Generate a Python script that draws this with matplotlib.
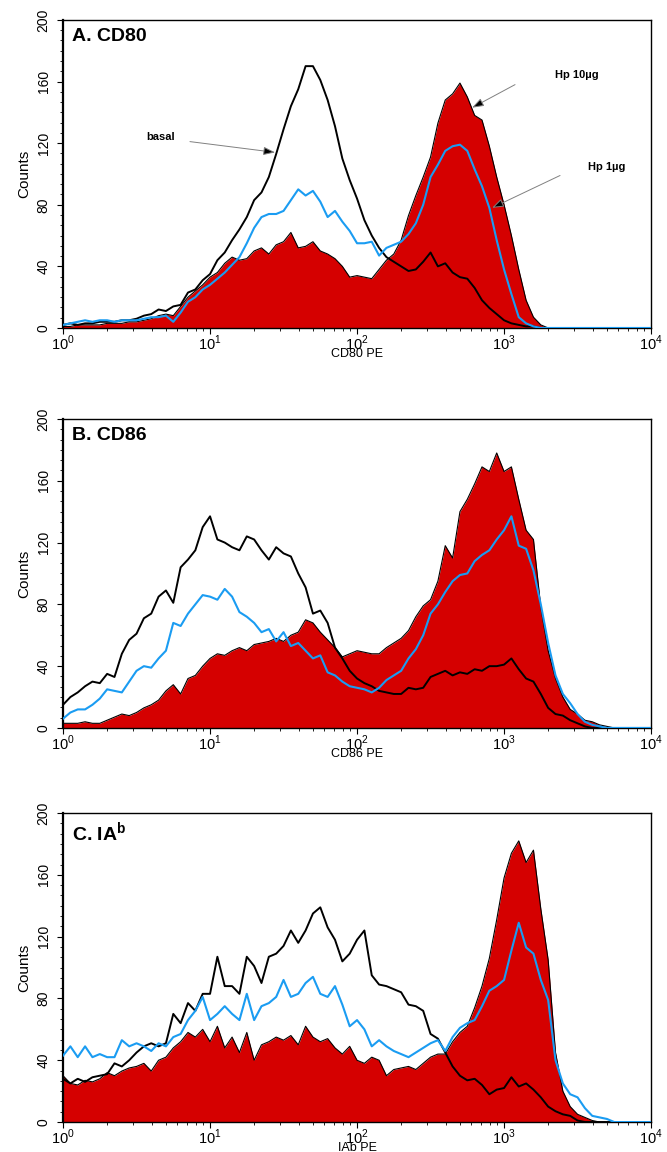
import numpy as np
import matplotlib
matplotlib.use('Agg')
import matplotlib.pyplot as plt
from matplotlib.ticker import MultipleLocator, LogLocator, FuncFormatter, NullFormatter

plt.rcParams['font.family'] = ['Liberation Sans', 'DejaVu Sans']
plt.rcParams['mathtext.fontset'] = 'custom'
plt.rcParams['mathtext.rm'] = 'Liberation Sans'
plt.rcParams['mathtext.bf'] = 'Liberation Sans:bold'

RED = '#d50000'
BLUE = '#1a9cf2'

# channel positions, log10 of fluorescence (0.05 steps from 10^0 to 10^4)
log_channel = [0.00, 0.05, 0.10, 0.15, 0.20, 0.25, 0.30, 0.35, 0.40, 0.45,
               0.50, 0.55, 0.60, 0.65, 0.70, 0.75, 0.80, 0.85, 0.90, 0.95,
               1.00, 1.05, 1.10, 1.15, 1.20, 1.25, 1.30, 1.35, 1.40, 1.45,
               1.50, 1.55, 1.60, 1.65, 1.70, 1.75, 1.80, 1.85, 1.90, 1.95,
               2.00, 2.05, 2.10, 2.15, 2.20, 2.25, 2.30, 2.35, 2.40, 2.45,
               2.50, 2.55, 2.60, 2.65, 2.70, 2.75, 2.80, 2.85, 2.90, 2.95,
               3.00, 3.05, 3.10, 3.15, 3.20, 3.25, 3.30, 3.35, 3.40, 3.45,
               3.50, 3.55, 3.60, 3.65, 3.70, 3.75, 3.80, 3.85, 3.90, 3.95,
               4.00]

# A. CD80
cd80_basal = [2, 3, 2, 3, 3, 4, 4, 4, 5, 5,
              6, 8, 9, 12, 11, 14, 15, 23, 25, 31,
              35, 44, 49, 57, 64, 72, 83, 88, 98, 113,
              129, 144, 155, 170, 170, 161, 148, 131, 110, 96,
              84, 70, 60, 52, 46, 43, 40, 37, 38, 43,
              49, 40, 42, 36, 33, 32, 26, 18, 13, 9,
              5, 3, 2, 1, 1, 0, 0, 0, 0, 0,
              0, 0, 0, 0, 0, 0, 0, 0, 0, 0,
              0]
cd80_hp1 = [2, 3, 4, 5, 4, 5, 5, 4, 5, 5,
            5, 6, 7, 7, 8, 4, 10, 17, 20, 25,
            28, 32, 36, 41, 46, 55, 65, 72, 74, 74,
            76, 83, 90, 86, 89, 82, 72, 76, 69, 63,
            55, 55, 56, 47, 52, 54, 56, 61, 68, 80,
            98, 106, 115, 118, 119, 115, 103, 92, 78, 57,
            38, 22, 7, 3, 1, 0, 0, 0, 0, 0,
            0, 0, 0, 0, 0, 0, 0, 0, 0, 0,
            0]
cd80_hp10 = [1, 1, 2, 2, 2, 2, 3, 3, 3, 4,
             4, 5, 6, 8, 9, 8, 14, 20, 24, 28,
             33, 36, 42, 46, 44, 45, 50, 52, 48, 54,
             56, 62, 52, 53, 56, 50, 48, 45, 40, 33,
             34, 33, 32, 38, 44, 48, 57, 73, 86, 98,
             111, 133, 148, 152, 159, 150, 138, 135, 118, 98,
             80, 60, 38, 18, 7, 2, 0, 0, 0, 0,
             0, 0, 0, 0, 0, 0, 0, 0, 0, 0,
             0]

# B. CD86
cd86_basal = [15, 20, 23, 27, 30, 29, 35, 33, 48, 57,
              61, 71, 74, 85, 89, 81, 104, 109, 115, 130,
              137, 122, 120, 117, 115, 124, 122, 115, 109, 117,
              113, 111, 100, 91, 74, 76, 68, 52, 45, 37,
              32, 29, 27, 24, 23, 22, 22, 26, 25, 26,
              33, 35, 37, 34, 36, 35, 38, 37, 40, 40,
              41, 45, 38, 32, 30, 22, 13, 9, 8, 5,
              3, 1, 0, 0, 0, 0, 0, 0, 0, 0,
              0]
cd86_hp1 = [6, 10, 12, 12, 15, 19, 25, 24, 23, 30,
            37, 40, 39, 45, 50, 68, 66, 74, 80, 86,
            85, 83, 90, 85, 75, 72, 68, 62, 64, 56,
            62, 53, 55, 50, 45, 47, 36, 34, 30, 27,
            26, 25, 23, 26, 31, 34, 37, 45, 51, 60,
            74, 80, 88, 95, 99, 100, 108, 112, 115, 122,
            128, 137, 118, 116, 102, 80, 55, 34, 22, 16,
            9, 4, 2, 1, 0, 0, 0, 0, 0, 0,
            0]
cd86_hp10 = [3, 3, 3, 4, 3, 3, 5, 7, 9, 8,
             10, 13, 15, 18, 24, 28, 22, 32, 34, 40,
             45, 48, 47, 50, 52, 50, 54, 55, 56, 58,
             56, 60, 62, 70, 68, 62, 57, 52, 46, 48,
             50, 49, 48, 48, 52, 55, 58, 63, 72, 79,
             83, 95, 118, 110, 140, 148, 158, 169, 166, 178,
             166, 169, 148, 128, 122, 78, 50, 32, 20, 12,
             9, 5, 4, 2, 1, 0, 0, 0, 0, 0,
             0]

# C. IAb
iab_basal = [28, 25, 28, 26, 29, 30, 31, 38, 36, 40,
             45, 49, 51, 49, 51, 70, 64, 77, 72, 83,
             83, 107, 88, 88, 83, 107, 101, 90, 107, 109,
             114, 124, 116, 124, 135, 139, 126, 118, 104, 109,
             118, 124, 95, 89, 88, 86, 84, 76, 75, 72,
             57, 54, 45, 36, 30, 27, 28, 24, 18, 21,
             22, 29, 23, 25, 21, 16, 10, 7, 5, 4,
             1, 0, 0, 0, 0, 0, 0, 0, 0, 0,
             0]
iab_hp1 = [43, 49, 42, 49, 42, 44, 42, 42, 53, 49,
           51, 49, 46, 51, 49, 55, 57, 66, 72, 81,
           66, 70, 75, 70, 66, 83, 66, 75, 77, 81,
           92, 81, 83, 90, 94, 83, 81, 88, 76, 62,
           66, 60, 49, 53, 49, 46, 44, 42, 45, 48,
           51, 53, 46, 55, 61, 64, 66, 75, 85, 88,
           92, 111, 129, 113, 109, 92, 79, 40, 25, 18,
           16, 9, 4, 3, 2, 0, 0, 0, 0, 0,
           0]
iab_hp10 = [30, 25, 24, 27, 26, 28, 32, 30, 33, 35,
            36, 38, 33, 40, 42, 48, 52, 58, 55, 60,
            52, 62, 48, 55, 45, 58, 40, 50, 52, 55,
            53, 56, 50, 62, 55, 52, 54, 48, 44, 49,
            40, 38, 42, 40, 30, 34, 35, 36, 34, 38,
            42, 44, 44, 52, 58, 62, 74, 88, 106, 131,
            158, 174, 182, 168, 176, 138, 105, 45, 20, 10,
            5, 3, 1, 0, 0, 0, 0, 0, 0, 0,
            0]

panel_titles = ['A. CD80', 'B. CD86', r'C. IA$^\mathbf{b}$']
x_labels = ['CD80 PE', 'CD86 PE', 'IAb PE']
panel_data = [(cd80_basal, cd80_hp1, cd80_hp10),
              (cd86_basal, cd86_hp1, cd86_hp10),
              (iab_basal, iab_hp1, iab_hp10)]
# axes boxes in figure fractions [left, bottom, width, height]
boxes = [[0.0945, 0.7153, 0.8816, 0.2674],
         [0.0945, 0.3681, 0.8816, 0.2682],
         [0.0945, 0.0260, 0.8816, 0.2682]]

x = 10 ** np.array(log_channel)

fig = plt.figure(figsize=(6.67, 11.52), dpi=100)
axes = []
for box, title, xlab, (basal, hp1, hp10) in zip(boxes, panel_titles, x_labels, panel_data):
    ax = fig.add_axes(box)
    axes.append(ax)
    ax.fill_between(x, hp10, 0, color=RED, lw=0, zorder=1)
    ax.plot(x, hp10, color='black', lw=0.8, zorder=2)
    ax.plot(x, basal, color='black', lw=1.4, zorder=3)
    ax.plot(x, hp1, color=BLUE, lw=1.5, zorder=4)

    ax.set_xscale('log')
    ax.set_xlim(1, 1e4)
    ax.set_ylim(0, 200)
    ax.xaxis.set_major_locator(LogLocator(base=10, numticks=10))
    ax.xaxis.set_minor_locator(LogLocator(base=10, subs=np.arange(2, 10), numticks=10))
    ax.xaxis.set_major_formatter(FuncFormatter(lambda v, p: r'$10^{%d}$' % round(np.log10(v))))
    ax.xaxis.set_minor_formatter(NullFormatter())
    ax.yaxis.set_major_locator(MultipleLocator(40))
    ax.yaxis.set_minor_locator(MultipleLocator(40 / 6))
    ax.tick_params(axis='x', which='major', length=4, width=0.8, labelsize=10.5, pad=0)
    ax.tick_params(axis='x', which='minor', length=2.5, width=0.6)
    ax.tick_params(axis='y', which='major', length=4, width=0.8, labelsize=10, pad=5)
    ax.tick_params(axis='y', which='minor', length=2.5, width=0.6)
    for lbl in ax.get_yticklabels():
        lbl.set_rotation(90)
        lbl.set_va('center')
        lbl.set_family(['Liberation Sans Narrow', 'Liberation Sans', 'DejaVu Sans'])
    for s in ax.spines.values():
        s.set_linewidth(1.0)
    ax.spines['left'].set_linewidth(1.6)

    ax.set_ylabel('Counts', fontsize=11,
                  family=['Liberation Sans Narrow', 'Liberation Sans', 'DejaVu Sans'],
                  labelpad=4)
    ax.set_xlabel(xlab, fontsize=9, va='top')
    ax.xaxis.set_label_coords(0.5, -0.064)
    ax.text(0.015, 0.975, title, transform=ax.transAxes, fontsize=14,
            fontweight='bold', ha='left', va='top')

# labels with arrows on the CD80 panel
arrow_kw = dict(arrowstyle='-|>,head_length=0.7,head_width=0.25', fc='black',
                ec='0.5', lw=0.7, shrinkA=0, shrinkB=0)
ax = axes[0]
ax.annotate('', xy=(27.7, 114), xytext=(7.3, 121), arrowprops=arrow_kw)
ax.text(4.6, 124, 'basal', fontsize=8, fontweight='bold', ha='center', va='center')
ax.annotate('', xy=(606, 143), xytext=(1188, 158), arrowprops=arrow_kw)
ax.text(3140, 164, 'Hp 10\u00b5g', fontsize=8, fontweight='bold', ha='center', va='center')
ax.annotate('', xy=(829, 78), xytext=(2404, 99), arrowprops=arrow_kw)
ax.text(5020, 104.5, 'Hp 1\u00b5g', fontsize=8, fontweight='bold', ha='center', va='center')

fig.savefig('out.png', dpi=100)
